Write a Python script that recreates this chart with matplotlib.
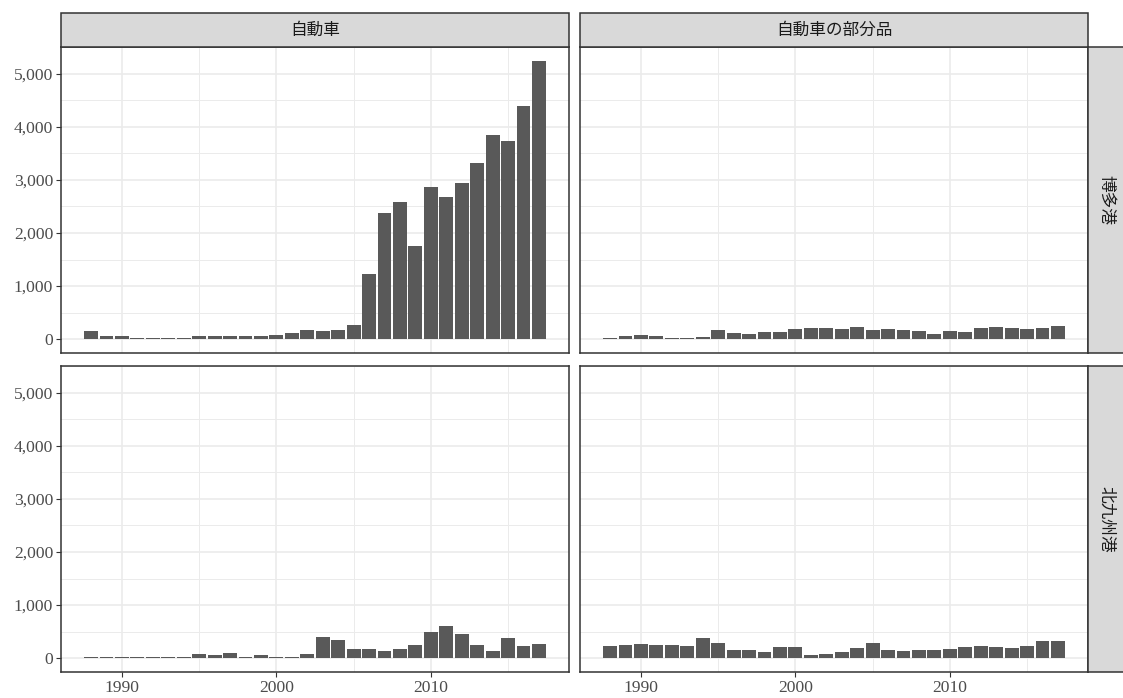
import numpy as np
import matplotlib.pyplot as plt
from matplotlib.patches import Rectangle
from matplotlib.ticker import FuncFormatter, MultipleLocator

plt.rcParams['font.family'] = ['Liberation Serif', 'Noto Sans CJK JP']

# --- data ---
years = list(range(1988, 2018))

cols = ['自動車', '自動車の部分品']
rows = ['博多港', '北九州港']

hakata_car = [144, 50, 50, 12, 12, 12, 12, 50, 50, 50, 50, 50, 69, 106, 162,
              144, 162, 275, 1231, 2375, 2581, 1756, 2862, 2675, 2937, 3312,
              3856, 3725, 4400, 5244]
hakata_parts = [12, 50, 69, 50, 12, 12, 31, 162, 106, 88, 125, 125, 181, 200,
                200, 181, 237, 162, 181, 162, 144, 88, 144, 125, 200, 237,
                200, 181, 200, 256]
kitaq_car = [12, 25, 12, 12, 12, 12, 25, 81, 56, 100, 25, 62, 25, 25, 81, 400,
             344, 175, 175, 137, 175, 250, 494, 606, 456, 250, 137, 381, 231,
             269]
kitaq_parts = [225, 244, 262, 244, 244, 225, 375, 281, 150, 150, 112, 206,
               206, 56, 75, 112, 187, 281, 150, 131, 150, 150, 169, 206, 225,
               206, 187, 225, 319, 319]

values = [[hakata_car, hakata_parts], [kitaq_car, kitaq_parts]]

# --- layout (pixels) ---
W, H = 1123, 698
col_x = [61, 580]
row_y = [47, 366]
pw, ph = 508, 306
strip = 34

BAR = '#595959'
BORDER = '#333333'
STRIP = '#D9D9D9'
GRID = '#EBEBEB'

ymax = max(max(v) for r in values for v in r)


def rect(x, y, w, h):
    return [x / W, 1 - (y + h) / H, w / W, h / H]


def draw_strip(fig, x, y, w, h, label, rot=0):
    ax = fig.add_axes(rect(x, y, w, h))
    ax.set_xlim(0, 1)
    ax.set_ylim(0, 1)
    ax.axis('off')
    ax.add_patch(Rectangle((0, 0), 1, 1, transform=ax.transAxes,
                           facecolor=STRIP, edgecolor=BORDER, lw=1.1,
                           clip_on=False))
    ax.text(0.5, 0.5, label, ha='center', va='center', rotation=rot,
            family=['Noto Sans CJK JP', 'DejaVu Sans'], fontsize=12,
            color='#1A1A1A')


fig = plt.figure(figsize=(W / 100, H / 100), dpi=100)

for i in range(2):
    for j in range(2):
        ax = fig.add_axes(rect(col_x[j], row_y[i], pw, ph))
        ax.bar(years, values[i][j], width=0.9, color=BAR, zorder=3)
        span = 2017.45 - 1987.55
        ax.set_xlim(1987.55 - 0.05 * span, 2017.45 + 0.05 * span)
        ax.set_ylim(-0.05 * ymax, 1.05 * ymax)

        ax.xaxis.set_major_locator(MultipleLocator(10))
        ax.xaxis.set_minor_locator(MultipleLocator(5))
        ax.yaxis.set_major_locator(MultipleLocator(1000))
        ax.yaxis.set_minor_locator(MultipleLocator(500))
        ax.grid(which='major', color=GRID, lw=1.2, zorder=0)
        ax.grid(which='minor', color=GRID, lw=0.7, zorder=0)
        ax.set_axisbelow(True)

        for s in ax.spines.values():
            s.set_color(BORDER)
            s.set_linewidth(1.1)
            s.set_zorder(5)

        ax.tick_params(which='major', length=3.6, width=0.8, color=BORDER,
                       labelcolor='#4D4D4D', labelsize=12.6, pad=2)
        ax.tick_params(which='minor', length=0)
        ax.yaxis.set_major_formatter(FuncFormatter(lambda v, p: f'{v:,.0f}'))

        if i == 0:
            ax.tick_params(axis='x', which='major', length=0, labelbottom=False)
        if j == 1:
            ax.tick_params(axis='y', which='major', length=0, labelleft=False)

# --- strips ---
for j in range(2):
    draw_strip(fig, col_x[j], row_y[0] - strip, pw, strip, cols[j])
for i in range(2):
    draw_strip(fig, col_x[1] + pw, row_y[i], strip + 2, ph, rows[i], rot=-90)

fig.savefig('out.png', dpi=100, facecolor='white')
